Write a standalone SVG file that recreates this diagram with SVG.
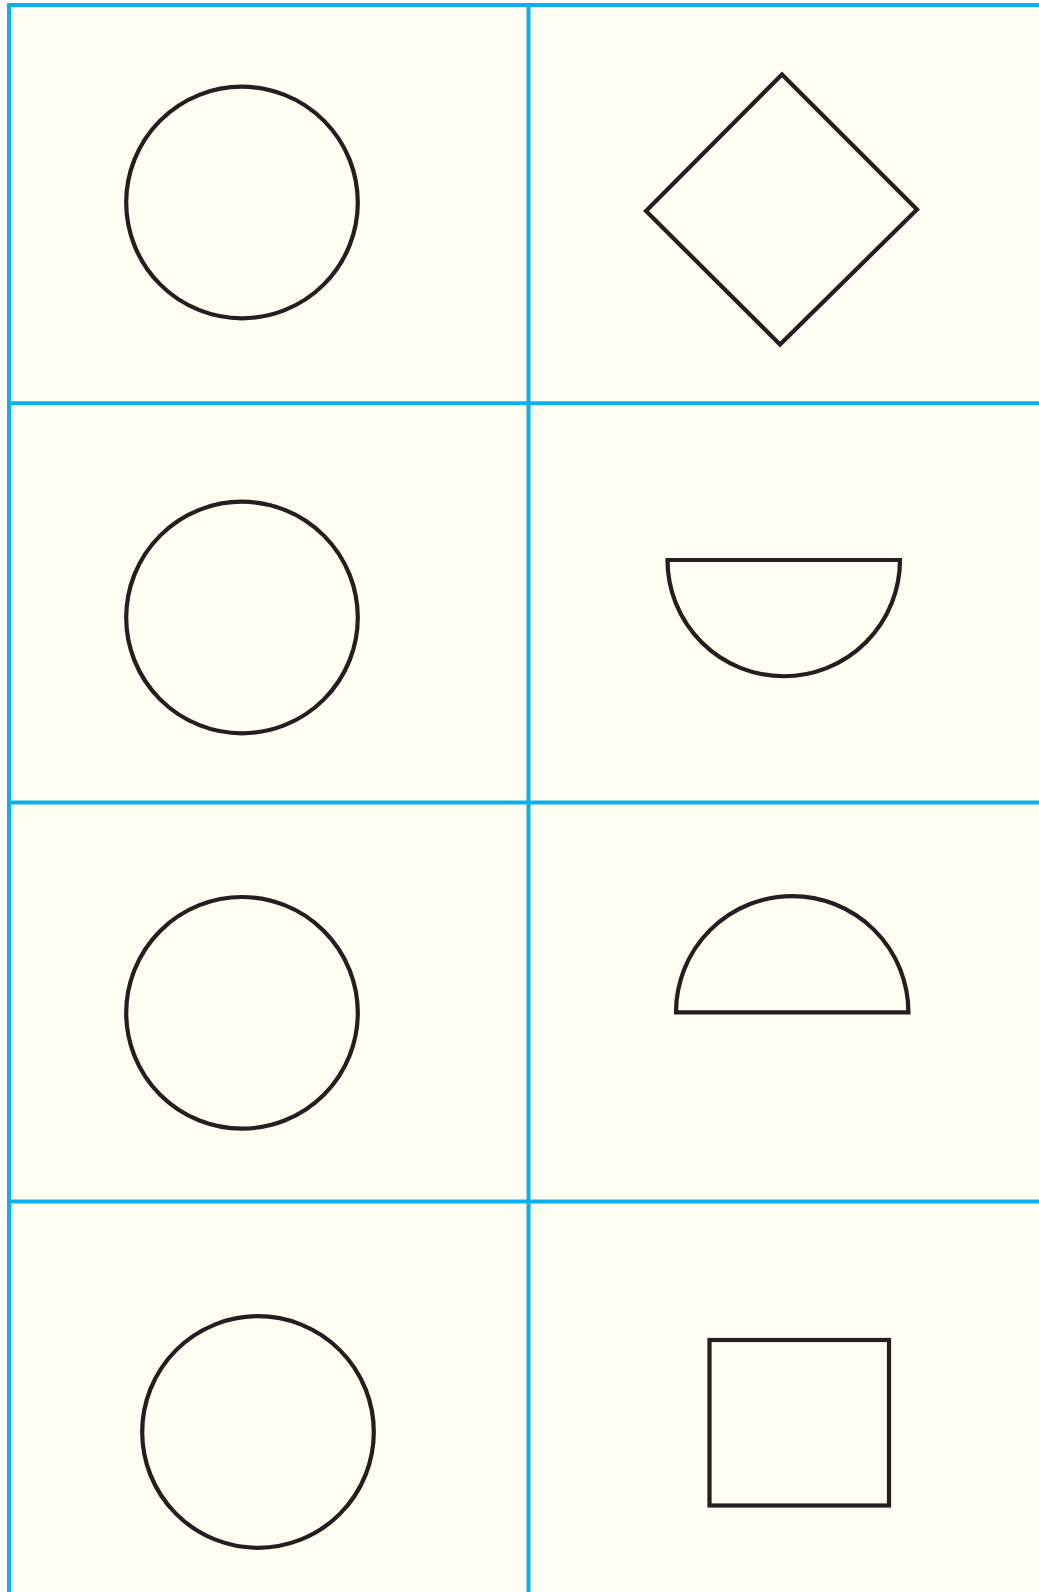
<svg xmlns="http://www.w3.org/2000/svg" width="1039" height="1592" viewBox="0 0 1039 1592">
<style>
.grid{stroke:#0BB0EE;stroke-width:4;fill:none}
.shape{stroke:#231F20;stroke-width:4.2;fill:none}
</style>
<rect x="0" y="0" width="1039" height="1592" fill="#FFFFFF"/>
<rect x="9" y="5" width="1030" height="1587" fill="#FDFDF1"/>
<g id="grid">
<line class="grid" x1="9" y1="5" x2="1039" y2="5"/>
<line class="grid" x1="9" y1="3" x2="9" y2="1592"/>
<line class="grid" x1="528.5" y1="5" x2="528.5" y2="1592"/>
<line class="grid" x1="9" y1="403.3" x2="1039" y2="403.3"/>
<line class="grid" x1="9" y1="802.4" x2="1039" y2="802.4"/>
<line class="grid" x1="9" y1="1201.5" x2="1039" y2="1201.5"/>
</g>
<g id="circle1"><circle class="shape" cx="242" cy="202.5" r="115.8"/></g>
<g id="diamond"><polygon class="shape" points="782,74.5 917,209.5 780,344.5 646,211"/></g>
<g id="circle2"><circle class="shape" cx="242" cy="617.5" r="115.8"/></g>
<g id="halfdown"><path class="shape" d="M667.5,560 L900,560 A116.25,116.25 0 0 1 667.5,560 Z"/></g>
<g id="circle3"><circle class="shape" cx="242" cy="1012.8" r="115.8"/></g>
<g id="halfup"><path class="shape" d="M676,1012.3 A116.2,116.2 0 0 1 908.4,1012.3 Z"/></g>
<g id="circle4"><circle class="shape" cx="258" cy="1432" r="115.8"/></g>
<g id="square"><rect class="shape" x="709.5" y="1340" width="179.5" height="165.5" stroke-width="4.8"/></g>
</svg>
